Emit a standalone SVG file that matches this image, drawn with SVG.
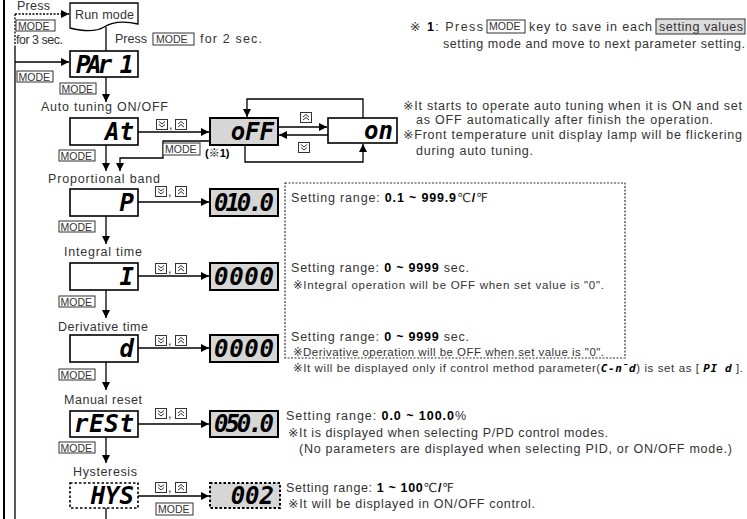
<svg xmlns="http://www.w3.org/2000/svg" width="747" height="519" viewBox="0 0 747 519">
<defs>
<style>
.t{font-family:"Liberation Sans","DejaVu Sans","Noto Sans CJK KR",sans-serif;font-size:12.5px;fill:#333}
.s{font-family:"Liberation Sans","DejaVu Sans","Noto Sans CJK KR",sans-serif;font-size:11.5px;fill:#333}
.b{font-weight:bold;fill:#000}
.seg{font-family:"DejaVu Sans Mono",monospace;font-weight:bold;font-style:oblique;font-size:24px;fill:#000}
.segs{font-family:"DejaVu Sans Mono",monospace;font-weight:bold;font-style:oblique;font-size:11px;fill:#000}
.pbox{fill:#fff;stroke:#000;stroke-width:1.6}
.vbox{fill:#d6d6d6;stroke:#000;stroke-width:2}
.dash{stroke-dasharray:2.5,2}
.kr{fill:#fff;stroke:#333;stroke-width:1}
.kt{font-family:"Liberation Sans","DejaVu Sans",sans-serif;font-size:10.5px;fill:#333}
.ln{fill:none;stroke:#000;stroke-width:1.3}
.arr{marker-end:url(#ah)}
</style>
<marker id="ah" viewBox="0 0 10 10" refX="10" refY="5" markerWidth="9" markerHeight="8" orient="auto" markerUnits="userSpaceOnUse">
<path d="M0,0 L10,5 L0,10 z" fill="#000"/>
</marker>
<g id="kdn"><rect x="0.5" y="0.5" width="11" height="10" class="kr"/><path d="M3,2.5 L6,5 L9,2.5 M3,5.5 L6,8 L9,5.5" fill="none" stroke="#333" stroke-width="1"/></g>
<g id="kup"><rect x="0.5" y="0.5" width="11" height="10" class="kr"/><path d="M3,5 L6,2.5 L9,5 M3,8 L6,5.5 L9,8" fill="none" stroke="#333" stroke-width="1"/></g>
</defs>
<rect width="747" height="519" fill="#fff"/>

<!-- connectors -->
<g id="connectors">
<line x1="4" y1="0" x2="4" y2="519" stroke="#000" stroke-width="2"/>
<path class="ln" d="M15,14 H69" stroke-dasharray="2,1.5" marker-end="url(#ah)"/>
<path class="ln" d="M15,14 V46" stroke-dasharray="2,1.5"/>
<path class="ln" d="M15,46 V519"/>
<path class="ln arr" d="M15,62 H69"/>
<path class="ln" d="M106,27 V51"/>
<path class="ln arr" d="M106,77 V102"/>
<path class="ln arr" d="M138,132 H209"/>
<path class="ln arr" d="M278,127 H327"/>
<path class="ln arr" d="M328,135 H279"/>
<path class="ln arr" d="M363,118 V99 H247 V117"/>
<path class="ln arr" d="M245,145 V162 H363 V144"/>
<path class="ln arr" d="M106,145 V171"/>
<path class="ln arr" d="M210,141 H163 V158 H120 V171"/>
<path class="ln arr" d="M138,202 H209"/>
<path class="ln arr" d="M106,216 V244"/>
<path class="ln arr" d="M138,276 H209"/>
<path class="ln arr" d="M106,290 V318"/>
<path class="ln arr" d="M138,348 H209"/>
<path class="ln arr" d="M106,362 V390"/>
<path class="ln arr" d="M138,424 H209"/>
<path class="ln arr" d="M106,437 V463"/>
<path class="ln arr" d="M138,496 H209"/>
<path class="ln" d="M106,508 V519"/>
<rect x="285" y="183" width="340" height="175" fill="none" stroke="#333" stroke-width="1.2" stroke-dasharray="2,1.5"/>
</g>

<!-- keys on connectors -->
<g id="keys">
<rect class="kr" x="16" y="20" width="39" height="11"/><text class="kt" x="18" y="29.5">MODE</text>
<rect class="kr" x="17" y="71" width="36" height="11"/><text class="kt" x="18.5" y="80.5">MODE</text>
<rect class="kr" x="60" y="83" width="36" height="11"/><text class="kt" x="61.5" y="92.5">MODE</text>
<rect class="kr" x="59" y="150" width="36" height="11"/><text class="kt" x="60.5" y="159.5">MODE</text>
<rect class="kr" x="163" y="143" width="37" height="12"/><text class="kt" x="165" y="152.5">MODE</text>
<rect class="kr" x="59" y="221" width="36" height="11"/><text class="kt" x="60.5" y="230.5">MODE</text>
<rect class="kr" x="59" y="296" width="36" height="11"/><text class="kt" x="60.5" y="305.5">MODE</text>
<rect class="kr" x="59" y="369" width="36" height="11"/><text class="kt" x="60.5" y="378.5">MODE</text>
<rect class="kr" x="59" y="442" width="36" height="11"/><text class="kt" x="60.5" y="451.5">MODE</text>
<rect class="kr" x="156" y="503" width="37" height="12"/><text class="kt" x="158" y="512.5">MODE</text>
<use href="#kdn" x="156" y="119"/><text class="t" x="169" y="129">,</text><use href="#kup" x="175" y="119"/>
<use href="#kup" x="300" y="112"/>
<use href="#kdn" x="298" y="142"/>
<use href="#kdn" x="155" y="186"/><text class="t" x="168" y="196">,</text><use href="#kup" x="175" y="186"/>
<use href="#kdn" x="155" y="263"/><text class="t" x="168" y="273">,</text><use href="#kup" x="175" y="263"/>
<use href="#kdn" x="155" y="335"/><text class="t" x="168" y="345">,</text><use href="#kup" x="175" y="335"/>
<use href="#kdn" x="155" y="408"/><text class="t" x="168" y="418">,</text><use href="#kup" x="175" y="408"/>
<use href="#kdn" x="155" y="482"/><text class="t" x="168" y="492">,</text><use href="#kup" x="175" y="482"/>
</g>

<!-- nodes -->
<g id="run-mode">
<path d="M70,3 H138 V24 C125,21 112,22 104,27 C96,32 82,31 70,28 Z" fill="#fff" stroke="#000" stroke-width="1.3"/>
<text class="t" x="75" y="19" textLength="59">Run mode</text>
</g>
<g id="par1"><rect class="pbox" x="70" y="51" width="68" height="26"/><text class="seg" x="134" y="73" text-anchor="end" textLength="58">PAr 1</text></g>
<g id="at"><rect class="pbox" x="70" y="118" width="68" height="27"/><text class="seg" x="134" y="140" text-anchor="end">At</text></g>
<g id="off"><rect class="vbox" x="210" y="118" width="68" height="27"/><text class="seg" x="274" y="140" text-anchor="end">oFF</text></g>
<g id="on"><rect class="pbox" x="328" y="118" width="69" height="25"/><text class="seg" x="393" y="139" text-anchor="end">on</text></g>
<g id="p"><rect class="pbox" x="70" y="189" width="68" height="27"/><text class="seg" x="134" y="211" text-anchor="end">P</text></g>
<g id="p-val"><rect class="vbox" x="210" y="189" width="68" height="27"/><text class="seg" x="274" y="211" text-anchor="end" textLength="60">010.0</text></g>
<g id="i"><rect class="pbox" x="70" y="263" width="68" height="27"/><text class="seg" x="134" y="285" text-anchor="end">I</text></g>
<g id="i-val"><rect class="vbox" x="210" y="263" width="68" height="27"/><text class="seg" x="274" y="285" text-anchor="end" textLength="60">0000</text></g>
<g id="d"><rect class="pbox" x="70" y="335" width="68" height="27"/><text class="seg" x="134" y="357" text-anchor="end">d</text></g>
<g id="d-val"><rect class="vbox" x="210" y="335" width="68" height="27"/><text class="seg" x="274" y="357" text-anchor="end" textLength="60">0000</text></g>
<g id="rest"><rect class="pbox" x="70" y="411" width="68" height="26"/><text class="seg" x="134" y="432" text-anchor="end" textLength="60">rESt</text></g>
<g id="rest-val"><rect class="vbox" x="210" y="411" width="68" height="26"/><text class="seg" x="274" y="432" text-anchor="end" textLength="60">050.0</text></g>
<g id="hys"><rect class="pbox dash" x="70" y="483" width="68" height="25"/><text class="seg" x="134" y="504" text-anchor="end">HYS</text></g>
<g id="hys-val"><rect class="vbox dash" x="210" y="483" width="70" height="25"/><text class="seg" x="274" y="504" text-anchor="end">002</text></g>

<!-- labels -->
<g id="labels">
<text class="t" x="17" y="10" textLength="33">Press</text>
<text class="t" x="16" y="44" textLength="47">for 3 sec.</text>
<text class="t" x="115" y="43" textLength="32">Press</text>
<rect class="kr" x="153" y="33" width="41" height="12"/><text class="kt" x="156" y="42.5">MODE</text>
<text class="t" x="200" y="43" textLength="62">for 2 sec.</text>
<text class="t" x="41" y="111" textLength="127">Auto tuning ON/OFF</text>
<text class="t" x="48" y="183" textLength="112">Proportional band</text>
<text class="t" x="64" y="256" textLength="78">Integral time</text>
<text class="t" x="58" y="331" textLength="90">Derivative time</text>
<text class="t" x="64" y="404" textLength="78">Manual reset</text>
<text class="t" x="73" y="476" textLength="64">Hysteresis</text>
<text class="b" x="205" y="157" style="font-family:'Liberation Sans','Noto Sans CJK KR',sans-serif;font-size:11px">(※1)</text>
</g>

<g id="notes">
<text class="t" x="410" y="31" textLength="73">※ <tspan class="b">1</tspan>: Press</text>
<rect class="kr" x="487" y="20" width="38" height="13"/><text class="kt" x="489" y="30">MODE</text>
<text class="t" x="529" y="31" textLength="123">key to save in each</text>
<rect x="656" y="19" width="89" height="15" fill="#ddd" stroke="#333" stroke-width="1"/>
<text class="t" x="659" y="31" textLength="84">setting values</text>
<text class="t" x="443" y="48" textLength="302">setting mode and move to next parameter setting.</text>
<text class="t" x="403" y="110" textLength="339">※It starts to operate auto tuning when it is ON and set</text>
<text class="t" x="416" y="124" textLength="297">as OFF automatically after finish the operation.</text>
<text class="t" x="403" y="139" textLength="339">※Front temperature unit display lamp will be flickering</text>
<text class="t" x="416" y="155" textLength="117">during auto tuning.</text>
<text class="t" x="291" y="202" textLength="197">Setting range: <tspan class="b">0.1 ~ 999.9</tspan>℃<tspan class="b">/</tspan>℉</text>
<text class="t" x="291" y="272" textLength="178">Setting range: <tspan class="b">0 ~ 9999</tspan> sec.</text>
<text class="s" x="293" y="289" textLength="311">※Integral operation will be OFF when set value is "0".</text>
<text class="t" x="291" y="341" textLength="178">Setting range: <tspan class="b">0 ~ 9999</tspan> sec.</text>
<text class="s" x="293" y="356" textLength="311">※Derivative operation will be OFF when set value is "0".</text>
<text class="s" x="293" y="372" textLength="450">※It will be displayed only if control method parameter(<tspan class="segs">C-n̄d</tspan>) is set as [ <tspan class="segs">PI d</tspan> ].</text>
<text class="t" x="286" y="420" textLength="180">Setting range: <tspan class="b">0.0 ~ 100.0</tspan>%</text>
<text class="t" x="288" y="437" textLength="320">※It is displayed when selecting P/PD control modes.</text>
<text class="t" x="299" y="453" textLength="433">(No parameters are displayed when selecting PID, or ON/OFF mode.)</text>
<text class="t" x="286" y="492" textLength="168">Setting range: <tspan class="b">1 ~ 100</tspan>℃<tspan class="b">/</tspan>℉</text>
<text class="t" x="288" y="508" textLength="247">※It will be displayed in ON/OFF control.</text>
</g>
</svg>
